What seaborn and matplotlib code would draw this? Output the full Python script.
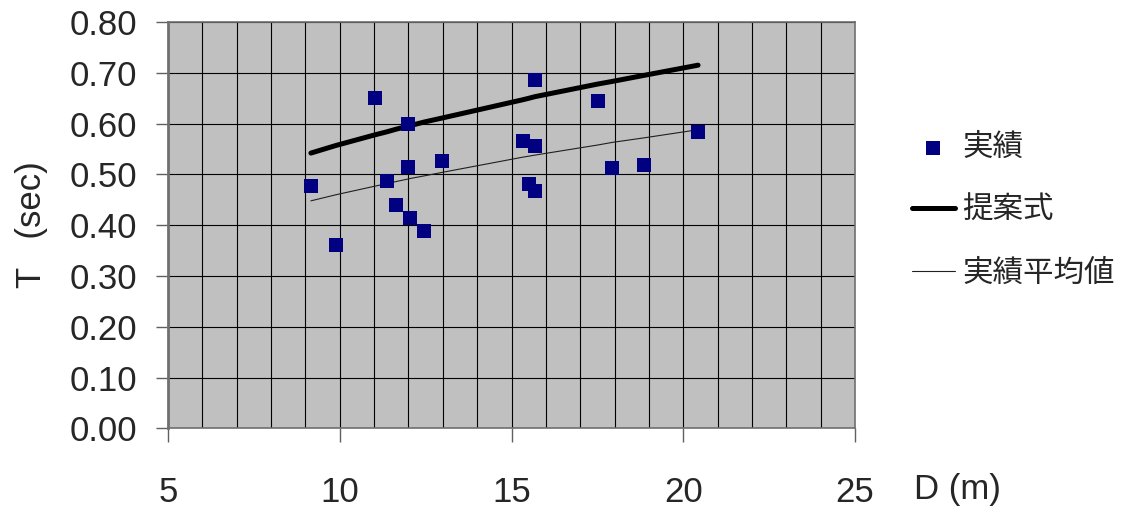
import matplotlib
matplotlib.use("Agg")
import numpy as np
import pandas as pd
import matplotlib.pyplot as plt
import seaborn as sns
from matplotlib.ticker import MultipleLocator

# measured values (実績)
D_obs = [9.16, 9.89, 11.03, 11.38, 11.64, 11.99, 11.99, 12.05, 12.45, 12.98,
         15.33, 15.51, 15.68, 15.68, 15.68, 17.52, 17.93, 18.86, 20.43]
T_obs = [0.478, 0.361, 0.651, 0.488, 0.439, 0.599, 0.515, 0.415, 0.389, 0.527,
         0.565, 0.482, 0.685, 0.556, 0.467, 0.645, 0.513, 0.519, 0.584]

# curves read at the measured D values
D_line = [9.16, 9.89, 11.03, 11.38, 11.64, 11.99, 12.05, 12.45, 12.98,
          15.33, 15.51, 15.68, 17.52, 17.93, 18.86, 20.43]
T_prop = [0.542, 0.557, 0.578, 0.584, 0.589, 0.595, 0.596, 0.603, 0.611,
          0.647, 0.650, 0.653, 0.678, 0.683, 0.695, 0.715]
T_mean = [0.448, 0.460, 0.477, 0.482, 0.486, 0.491, 0.492, 0.497, 0.504,
          0.534, 0.536, 0.538, 0.558, 0.563, 0.572, 0.588]

x_ticks = [5, 10, 15, 20, 25]
y_ticks = [0.0, 0.1, 0.2, 0.3, 0.4, 0.5, 0.6, 0.7, 0.8]

sns.set_style("white")
plt.rcParams['font.family'] = ['Liberation Sans', 'Noto Sans CJK JP', 'DejaVu Sans']

fig = plt.figure(figsize=(11.23, 5.09), dpi=100)
ax = fig.add_axes([0.1496, 0.1582, 0.6118, 0.7986])
ax.set_facecolor('#C0C0C0')

obs = pd.DataFrame({'D': D_obs, 'T': T_obs})
lines = pd.DataFrame({'D': D_line, 'prop': T_prop, 'mean': T_mean})

sns.lineplot(data=lines, x='D', y='prop', ax=ax, color='black', linewidth=3.6,
             estimator=None, sort=False, label='提案式', zorder=3)
sns.lineplot(data=lines, x='D', y='mean', ax=ax, color='#202020', linewidth=0.8,
             estimator=None, sort=False, label='実績平均値', zorder=3)
sns.scatterplot(data=obs, x='D', y='T', ax=ax, marker='s', s=90, color='#000080',
                linewidth=0, label='実績', zorder=4)

ax.set_xlim(5, 25)
ax.set_ylim(0, 0.8)
ax.set_xticks(x_ticks)
ax.set_yticks(y_ticks)
ax.set_yticklabels([f'{v:.2f}' for v in y_ticks])
ax.xaxis.set_minor_locator(MultipleLocator(1))
ax.yaxis.set_minor_locator(MultipleLocator(0.02))

ax.grid(which='major', color='black', linewidth=0.8)
ax.grid(which='minor', axis='x', color='black', linewidth=0.8)
ax.set_axisbelow(True)

ax.tick_params(axis='x', which='major', direction='out', length=10, width=1,
               color='#606060', labelsize=25, pad=24)
ax.tick_params(axis='x', which='minor', length=0)
ax.tick_params(axis='y', which='major', direction='out', length=9, width=1,
               color='#606060', labelsize=25, pad=13)
ax.tick_params(axis='y', which='minor', direction='in', length=6.5, width=1,
               color='#404040')
ax.tick_params(left=True, bottom=True)

for side in ['left', 'bottom', 'top', 'right']:
    ax.spines[side].set_color('#707070')
    ax.spines[side].set_linewidth(1.2)
ax.spines['left'].set_linewidth(2)

ax.set_xlabel('')
ax.set_ylabel('')
fig.text(32 / 1123, 1 - 225 / 509, 'T   (sec)', rotation=90, ha='center',
         va='center', fontsize=25)
fig.text(957 / 1123, 1 - 489 / 509, 'D (m)', ha='center', va='center',
         fontsize=25)

handles, labels = ax.get_legend_handles_labels()
order = [labels.index(l) for l in ['実績', '提案式', '実績平均値']]
ax.legend([handles[i] for i in order], [labels[i] for i in order],
          loc='upper left', bbox_to_anchor=(912 / 1123, 1 - 133 / 509),
          bbox_transform=fig.transFigure, frameon=False, fontsize=22,
          handlelength=1.4, handletextpad=0.25, labelspacing=1.08,
          borderpad=0, borderaxespad=0, markerscale=1.05)

fig.savefig('out.png', dpi=100)
